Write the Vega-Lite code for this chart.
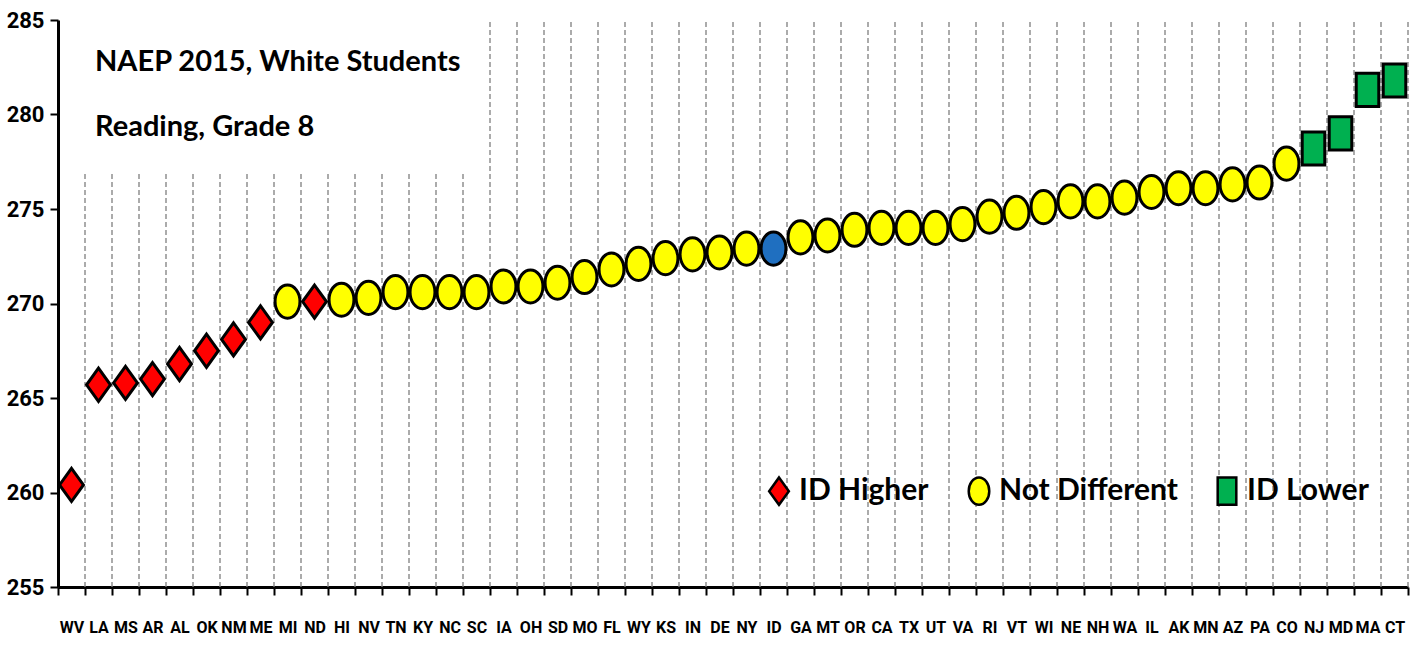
{
  "$schema": "https://vega.github.io/schema/vega-lite/v6.json",
  "width": 1350,
  "height": 567,
  "autosize": "none",
  "padding": {"left": 58, "top": 20, "right": 8, "bottom": 58},
  "background": "white",
  "config": {"view": {"stroke": null}},
  "title": {
    "text": ["NAEP 2015, White Students", "Reading, Grade 8"],
    "anchor": "start",
    "frame": "group",
    "orient": "top",
    "baseline": "top",
    "offset": 0,
    "dx": 37,
    "dy": 133,
    "font": "Lato",
    "fontWeight": "bold",
    "fontSize": 29,
    "lineHeight": 65,
    "color": "black"
  },
  "data": {
    "values": [
      {"state": "WV", "score": 260.4, "group": "ID Higher"},
      {"state": "LA", "score": 265.7, "group": "ID Higher"},
      {"state": "MS", "score": 265.8, "group": "ID Higher"},
      {"state": "AR", "score": 266.0, "group": "ID Higher"},
      {"state": "AL", "score": 266.8, "group": "ID Higher"},
      {"state": "OK", "score": 267.5, "group": "ID Higher"},
      {"state": "NM", "score": 268.1, "group": "ID Higher"},
      {"state": "ME", "score": 269.0, "group": "ID Higher"},
      {"state": "MI", "score": 270.1, "group": "Not Different"},
      {"state": "ND", "score": 270.1, "group": "ID Higher"},
      {"state": "HI", "score": 270.2, "group": "Not Different"},
      {"state": "NV", "score": 270.3, "group": "Not Different"},
      {"state": "TN", "score": 270.6, "group": "Not Different"},
      {"state": "KY", "score": 270.6, "group": "Not Different"},
      {"state": "NC", "score": 270.6, "group": "Not Different"},
      {"state": "SC", "score": 270.6, "group": "Not Different"},
      {"state": "IA", "score": 270.9, "group": "Not Different"},
      {"state": "OH", "score": 270.9, "group": "Not Different"},
      {"state": "SD", "score": 271.1, "group": "Not Different"},
      {"state": "MO", "score": 271.4, "group": "Not Different"},
      {"state": "FL", "score": 271.8, "group": "Not Different"},
      {"state": "WY", "score": 272.1, "group": "Not Different"},
      {"state": "KS", "score": 272.4, "group": "Not Different"},
      {"state": "IN", "score": 272.6, "group": "Not Different"},
      {"state": "DE", "score": 272.7, "group": "Not Different"},
      {"state": "NY", "score": 272.9, "group": "Not Different"},
      {"state": "ID", "score": 272.9, "group": "ID"},
      {"state": "GA", "score": 273.5, "group": "Not Different"},
      {"state": "MT", "score": 273.6, "group": "Not Different"},
      {"state": "OR", "score": 273.9, "group": "Not Different"},
      {"state": "CA", "score": 274.0, "group": "Not Different"},
      {"state": "TX", "score": 274.0, "group": "Not Different"},
      {"state": "UT", "score": 274.0, "group": "Not Different"},
      {"state": "VA", "score": 274.2, "group": "Not Different"},
      {"state": "RI", "score": 274.6, "group": "Not Different"},
      {"state": "VT", "score": 274.8, "group": "Not Different"},
      {"state": "WI", "score": 275.1, "group": "Not Different"},
      {"state": "NE", "score": 275.4, "group": "Not Different"},
      {"state": "NH", "score": 275.4, "group": "Not Different"},
      {"state": "WA", "score": 275.6, "group": "Not Different"},
      {"state": "IL", "score": 275.9, "group": "Not Different"},
      {"state": "AK", "score": 276.1, "group": "Not Different"},
      {"state": "MN", "score": 276.1, "group": "Not Different"},
      {"state": "AZ", "score": 276.3, "group": "Not Different"},
      {"state": "PA", "score": 276.4, "group": "Not Different"},
      {"state": "CO", "score": 277.4, "group": "Not Different"},
      {"state": "NJ", "score": 278.2, "group": "ID Lower"},
      {"state": "MD", "score": 279.0, "group": "ID Lower"},
      {"state": "MA", "score": 281.3, "group": "ID Lower"},
      {"state": "CT", "score": 281.8, "group": "ID Lower"}
    ]
  },
  "encoding": {
    "x": {
      "field": "state",
      "type": "nominal",
      "sort": ["WV","LA","MS","AR","AL","OK","NM","ME","MI","ND","HI","NV","TN","KY","NC","SC","IA","OH","SD","MO","FL","WY","KS","IN","DE","NY","ID","GA","MT","OR","CA","TX","UT","VA","RI","VT","WI","NE","NH","WA","IL","AK","MN","AZ","PA","CO","NJ","MD","MA","CT"],
      "scale": {"type": "band", "paddingInner": 0, "paddingOuter": 0},
      "axis": {
        "title": null,
        "labelAngle": 0,
        "tickBand": "extent",
        "grid": false,
        "domainColor": "black",
        "domainWidth": 3,
        "tickColor": "black",
        "tickWidth": 2,
        "tickSize": 8,
        "labelFont": "Roboto",
        "labelFontWeight": "bold",
        "labelFontSize": 16,
        "labelColor": "black",
        "labelPadding": 24,
        "labelBaseline": "top"
      }
    }
  },
  "layer": [
    {
      "transform": [{"filter": {"field": "state", "oneOf": ["LA","MS","AR","AL","OK","NM","ME","MI","ND","HI","NV","TN","KY","NC","SC"]}}],
      "mark": {"type": "rule", "color": "#7f7f7f", "strokeWidth": 1.3, "strokeDash": [5, 3]},
      "encoding": {
        "x": {"field": "state", "type": "nominal", "bandPosition": 0},
        "y": {"datum": 255},
        "y2": {"datum": 277}
      }
    },
    {
      "transform": [{"filter": {"not": {"field": "state", "oneOf": ["WV","LA","MS","AR","AL","OK","NM","ME","MI","ND","HI","NV","TN","KY","NC","SC"]}}}],
      "mark": {"type": "rule", "color": "#7f7f7f", "strokeWidth": 1.3, "strokeDash": [5, 3]},
      "encoding": {
        "x": {"field": "state", "type": "nominal", "bandPosition": 0},
        "y": {"datum": 255},
        "y2": {"datum": 285}
      }
    },
    {
      "transform": [{"filter": {"field": "state", "equal": "CT"}}],
      "mark": {"type": "rule", "color": "#7f7f7f", "strokeWidth": 1.3, "strokeDash": [5, 3]},
      "encoding": {
        "x": {"field": "state", "type": "nominal", "bandPosition": 1},
        "y": {"datum": 255},
        "y2": {"datum": 285}
      }
    },
    {
      "mark": {"type": "point", "filled": true, "stroke": "black", "strokeWidth": 3, "opacity": 1},
      "encoding": {
        "y": {
          "field": "score",
          "type": "quantitative",
          "scale": {"domain": [255, 285], "nice": false, "zero": false},
          "axis": {
            "title": null,
            "values": [255, 260, 265, 270, 275, 280, 285],
            "grid": false,
            "domainColor": "black",
            "domainWidth": 3,
            "tickColor": "black",
            "tickWidth": 2,
            "tickSize": 8,
            "labelFont": "Roboto",
            "labelFontWeight": "bold",
            "labelFontSize": 22,
            "labelColor": "black",
            "labelPadding": 6
          }
        },
        "color": {
          "field": "group",
          "type": "nominal",
          "scale": {
            "domain": ["ID Higher", "Not Different", "ID Lower", "ID"],
            "range": ["#ff0000", "#ffff00", "#00b050", "#1f6fc0"]
          },
          "legend": {
            "values": ["ID Higher", "Not Different", "ID Lower"],
            "title": null,
            "orient": "none",
            "direction": "horizontal",
            "legendX": 706,
            "legendY": 456,
            "labelFont": "Lato",
            "labelFontWeight": "bold",
            "labelFontSize": 30,
            "labelColor": "black",
            "labelLimit": 300,
            "symbolSize": 750,
            "symbolStrokeColor": "black",
            "symbolStrokeWidth": 2.5,
            "columnPadding": 34,
            "labelOffset": 5
          }
        },
        "shape": {
          "field": "group",
          "type": "nominal",
          "scale": {
            "domain": ["ID Higher", "Not Different", "ID Lower", "ID"],
            "range": [
              "M0,-1L0.72,0L0,1L-0.72,0Z",
              "M-0.75,0A0.75,1,0,1,1,0.75,0A0.75,1,0,1,1,-0.75,0Z",
              "M-0.68,-1H0.68V1H-0.68Z",
              "M-0.75,0A0.75,1,0,1,1,0.75,0A0.75,1,0,1,1,-0.75,0Z"
            ]
          },
          "legend": null
        },
        "size": {"value": 1100}
      }
    }
  ]
}
